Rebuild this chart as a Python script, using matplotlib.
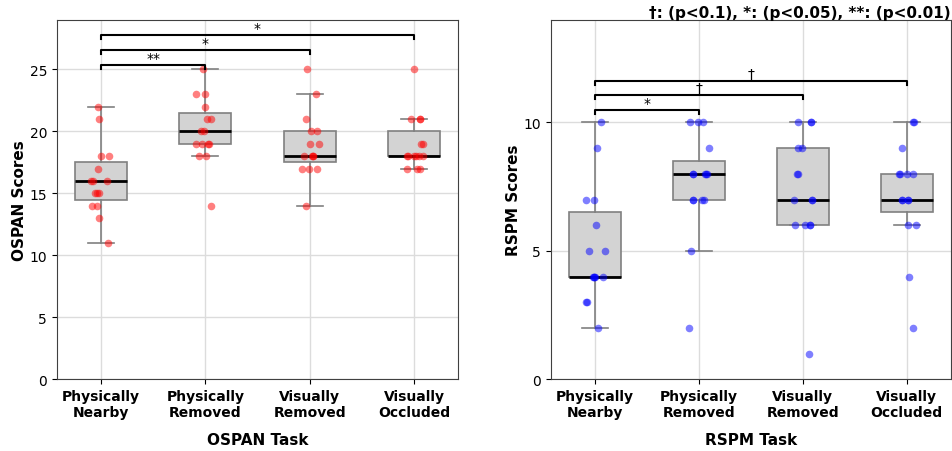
import matplotlib
matplotlib.use("Agg")
import matplotlib.pyplot as plt
import numpy as np

# categories / tick labels
conditions = ["Physically\nNearby", "Physically\nRemoved", "Visually\nRemoved", "Visually\nOccluded"]

# OSPAN scores per condition
ospan_nearby = [22, 21, 18, 18, 17, 16, 16, 16, 15, 15, 15, 14, 14, 13, 11]
ospan_phys_removed = [25, 23, 23, 22, 21, 21, 20, 20, 19, 19, 19, 19, 18, 18, 14]
ospan_vis_removed = [25, 23, 21, 20, 20, 19, 19, 18, 18, 18, 18, 17, 17, 17, 14]
ospan_vis_occluded = [25, 21, 21, 21, 19, 19, 18, 18, 18, 18, 18, 18, 17, 17, 17]

# RSPM scores per condition
rspm_nearby = [10, 9, 7, 7, 6, 5, 5, 4, 4, 4, 4, 4, 3, 3, 2]
rspm_phys_removed = [10, 10, 10, 9, 8, 8, 8, 8, 8, 7, 7, 7, 7, 5, 2]
rspm_vis_removed = [10, 10, 10, 9, 9, 8, 8, 7, 7, 7, 6, 6, 6, 6, 1]
rspm_vis_occluded = [10, 10, 9, 8, 8, 8, 8, 7, 7, 7, 7, 6, 6, 4, 2]

# horizontal jitter of each point
ospan_jitter = [
    [-0.026, -0.016, 0.0, 0.077, -0.026, -0.093, -0.077, 0.055, -0.058, -0.036, -0.016, -0.084, -0.036, -0.016, 0.067],
    [-0.026, -0.093, -0.004, -0.004, 0.019, 0.057, -0.038, -0.016, -0.093, -0.029, 0.029, 0.035, -0.061, 0.003, 0.054],
    [-0.03, 0.064, -0.032, 0.016, 0.074, 0.0, 0.086, -0.058, 0.027, 0.033, 0.03, -0.074, -0.01, 0.07, -0.032],
    [0.0, -0.025, 0.058, 0.06, 0.071, 0.09, -0.063, 0.0, 0.048, 0.09, -0.055, 0.02, -0.063, 0.033, 0.058],
]
rspm_jitter = [
    [0.055, 0.016, -0.089, -0.006, 0.007, -0.058, 0.096, -0.01, -0.006, -0.014, 0.077, -0.002, -0.083, -0.073, 0.026],
    [-0.087, -0.007, 0.041, 0.099, -0.059, 0.063, 0.08, -0.055, 0.07, -0.059, 0.032, 0.054, -0.055, -0.071, -0.093],
    [-0.046, 0.079, 0.076, -0.046, -0.005, -0.056, -0.05, -0.082, 0.091, 0.088, -0.072, 0.024, 0.072, 0.068, 0.06],
    [0.064, 0.07, -0.041, -0.07, -0.065, 0.001, 0.064, -0.047, 0.011, 0.016, -0.04, 0.016, 0.087, 0.026, 0.059],
]

# significance comparisons (group a, group b, label)
ospan_sig = [(0, 1, "**"), (0, 2, "*"), (0, 3, "*")]
rspm_sig = [(0, 1, "*"), (0, 2, "\u2020"), (0, 3, "\u2020")]


def draw_panel(ax, data, jitter, color, sig, bracket_y, tick_h, ylim, yticks, xlabel, ylabel):
    pos = np.arange(len(data))
    ax.grid(True, color="#dcdcdc", linewidth=1, zorder=0)
    ax.set_axisbelow(True)
    ax.boxplot(data, positions=pos, widths=0.5, capwidths=0.25, showfliers=False,
               patch_artist=True, zorder=2,
               boxprops=dict(facecolor="lightgray", edgecolor="gray", linewidth=1.2),
               whiskerprops=dict(color="gray", linewidth=1.2),
               capprops=dict(color="gray", linewidth=1.2),
               medianprops=dict(color="black", linewidth=2))
    for i, vals in enumerate(data):
        ax.scatter(pos[i] + np.array(jitter[i]), vals, s=30, color=color, alpha=0.5,
                   linewidths=0, zorder=3)
    for (a, b, lab), y in zip(sig, bracket_y):
        ax.plot([a, a, b, b], [y - tick_h, y, y, y - tick_h], color="black", linewidth=1.5, zorder=4)
        ax.text((a + b) / 2, y, lab, ha="center", va="bottom", fontsize=10)
    ax.set_xlim(-0.425, 3.425)
    ax.set_ylim(*ylim)
    ax.set_yticks(yticks)
    ax.set_xticks(pos)
    ax.set_xticklabels(conditions, fontsize=10, fontweight="bold")
    ax.tick_params(axis="y", labelsize=10)
    ax.set_xlabel(xlabel, fontsize=11, fontweight="bold", labelpad=9.5)
    ax.set_ylabel(ylabel, fontsize=11, fontweight="bold", labelpad=2)
    for sp in ax.spines.values():
        sp.set_color("0.25")


fig = plt.figure(figsize=(9.52, 4.52), dpi=100)
ax1 = fig.add_axes([0.0596, 0.1586, 0.4218, 0.7956])
ax2 = fig.add_axes([0.5785, 0.1586, 0.4202, 0.7956])

draw_panel(ax1, [ospan_nearby, ospan_phys_removed, ospan_vis_removed, ospan_vis_occluded],
           ospan_jitter, "red", ospan_sig, [25.37, 26.58, 27.77], 0.32, (0, 29),
           [0, 5, 10, 15, 20, 25], "OSPAN Task", "OSPAN Scores")
draw_panel(ax2, [rspm_nearby, rspm_phys_removed, rspm_vis_removed, rspm_vis_occluded],
           rspm_jitter, "blue", rspm_sig, [10.49, 11.07, 11.62], 0.16, (0, 14),
           [0, 5, 10], "RSPM Task", "RSPM Scores")

ax2.set_title("\u2020: (p<0.1), *: (p<0.05), **: (p<0.01)", loc="right",
              fontsize=11, fontweight="bold", pad=1.5)

fig.savefig("out.png", dpi=100)
